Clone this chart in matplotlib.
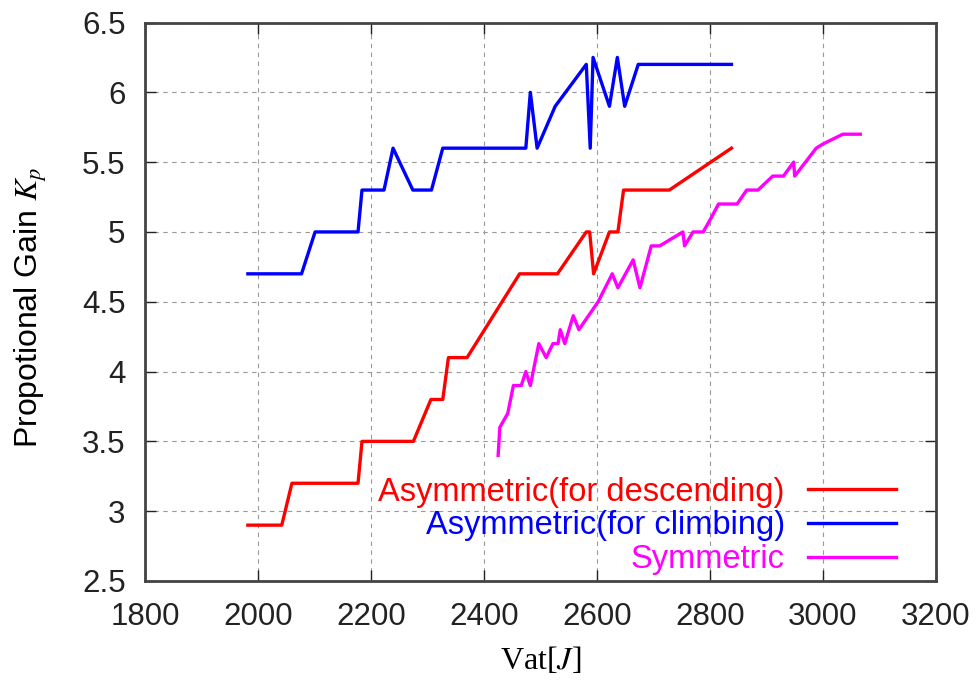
import matplotlib
matplotlib.use("Agg")
import matplotlib.pyplot as plt

# Kp-kurver: asymmetrisk (nedstigning), asymmetrisk (stigning) og symmetrisk
desc_x = [1982, 2042, 2060, 2177, 2184, 2275, 2306, 2327, 2337, 2370, 2463, 2530,
          2581, 2587, 2594, 2622, 2637, 2647, 2728, 2838]
desc_y = [2.9, 2.9, 3.2, 3.2, 3.5, 3.5, 3.8, 3.8, 4.1, 4.1, 4.7, 4.7,
          5.0, 5.0, 4.7, 5.0, 5.0, 5.3, 5.3, 5.6]

climb_x = [1982, 2077, 2101, 2177, 2184, 2223, 2239, 2274, 2307, 2327, 2474, 2482,
           2494, 2526, 2581, 2588, 2593, 2622, 2636, 2649, 2673, 2838]
climb_y = [4.7, 4.7, 5.0, 5.0, 5.3, 5.3, 5.6, 5.3, 5.3, 5.6, 5.6, 6.0,
           5.6, 5.9, 6.2, 5.6, 6.25, 5.9, 6.25, 5.9, 6.2, 6.2]

sym_x = [2425, 2428, 2442, 2452, 2466, 2474, 2482, 2497, 2510, 2522, 2531, 2535,
         2543, 2558, 2568, 2602, 2627, 2637, 2664, 2676, 2696, 2711, 2752, 2755,
         2770, 2788, 2802, 2815, 2848, 2865, 2885, 2911, 2930, 2948, 2950, 2988,
         3000, 3035, 3066]
sym_y = [3.4, 3.6, 3.7, 3.9, 3.9, 4.0, 3.9, 4.2, 4.1, 4.2, 4.2, 4.3,
         4.2, 4.4, 4.3, 4.5, 4.7, 4.6, 4.8, 4.6, 4.9, 4.9, 5.0, 4.9,
         5.0, 5.0, 5.1, 5.2, 5.2, 5.3, 5.3, 5.4, 5.4, 5.5, 5.4, 5.6,
         5.63, 5.7, 5.7]

x_ticks = [1800, 2000, 2200, 2400, 2600, 2800, 3000, 3200]
y_ticks = [2.5, 3, 3.5, 4, 4.5, 5, 5.5, 6, 6.5]
y_ticklabels = ["2.5", "3", "3.5", "4", "4.5", "5", "5.5", "6", "6.5"]

plt.rcParams["font.family"] = ["Liberation Sans", "DejaVu Sans"]
plt.rcParams["mathtext.fontset"] = "stix"

fig = plt.figure(figsize=(9.76, 6.8), dpi=100)
ax = fig.add_axes([0.1486, 0.1456, 0.8104, 0.8213])

ax.plot(desc_x, desc_y, color="#ff0000", lw=2.4, label="Asymmetric(for descending)")
ax.plot(climb_x, climb_y, color="#0000ff", lw=2.4, label="Asymmetric(for climbing)")
ax.plot(sym_x, sym_y, color="#ff00ff", lw=2.4, label="Symmetric")

ax.set_xlim(1800, 3200)
ax.set_ylim(2.5, 6.5)
ax.set_xticks(x_ticks)
ax.set_yticks(y_ticks)
ax.set_yticklabels(y_ticklabels)
ax.tick_params(direction="in", length=8, width=1, top=True, right=True,
               labelsize=22.5, colors="#222222")
ax.tick_params(axis="y", pad=14)
ax.tick_params(axis="x", pad=15)
ax.grid(True, color="#999999", linestyle=(0, (4, 4)), linewidth=0.8)
for s in ax.spines.values():
    s.set_linewidth(2)
    s.set_color("#444444")

ax.set_ylabel(r"Propotional Gain $K_p$", fontsize=23)
ax.yaxis.set_label_coords(-0.122, 0.49)
ax.set_xlabel(r"Vat[$J$]", fontsize=23, family="Liberation Serif")
ax.xaxis.set_label_coords(0.5, -0.115)

leg = ax.legend(loc="center right", bbox_to_anchor=(0.949, 0.0985), frameon=False,
                markerfirst=False, fontsize=23.5, handlelength=2.7, handletextpad=0.7,
                labelspacing=0.08, borderpad=0, borderaxespad=0,
                labelcolor="linecolor")
for t in leg.get_texts():
    t.set_ha("right")

fig.savefig("out.png", dpi=100)
